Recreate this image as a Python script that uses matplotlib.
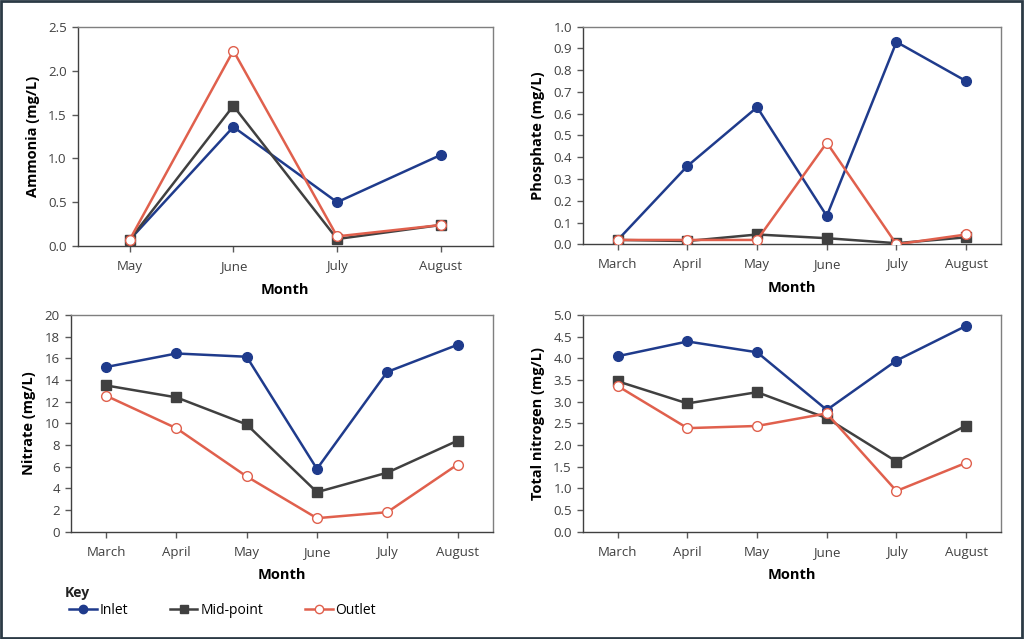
import matplotlib.pyplot as plt
from matplotlib.patches import Rectangle
from matplotlib.lines import Line2D

plt.rcParams['font.family'] = ['Open Sans', 'DejaVu Sans']

months_short = ['May', 'June', 'July', 'August']
months = ['March', 'April', 'May', 'June', 'July', 'August']

# Ammonia (May-August)
ammonia_inlet = [0.07, 1.36, 0.50, 1.04]
ammonia_mid = [0.07, 1.60, 0.08, 0.24]
ammonia_outlet = [0.07, 2.23, 0.11, 0.24]

# Phosphate
phos_inlet = [0.02, 0.36, 0.63, 0.13, 0.93, 0.75]
phos_mid = [0.02, 0.015, 0.045, 0.028, 0.005, 0.032]
phos_outlet = [0.02, 0.02, 0.02, 0.467, 0.0, 0.045]

# Nitrate
nitrate_inlet = [15.2, 16.45, 16.15, 5.8, 14.75, 17.25]
nitrate_mid = [13.5, 12.4, 9.9, 3.65, 5.45, 8.4]
nitrate_outlet = [12.55, 9.55, 5.1, 1.25, 1.8, 6.2]

# Total nitrogen
tn_inlet = [4.05, 4.39, 4.14, 2.81, 3.95, 4.75]
tn_mid = [3.47, 2.96, 3.22, 2.62, 1.62, 2.45]
tn_outlet = [3.36, 2.39, 2.44, 2.73, 0.94, 1.59]

c_inlet = '#1f3b8c'
c_mid = '#404040'
c_outlet = '#e0604d'

fig = plt.figure(figsize=(10.24, 6.39), dpi=100)


def draw(ax, cats, inlet, mid, outlet, ylabel, ymax, ystep, fmt):
    x = list(range(len(cats)))
    ax.plot(x, inlet, color=c_inlet, lw=1.8, marker='o', ms=7, mfc=c_inlet, mec=c_inlet, zorder=3)
    ax.plot(x, mid, color=c_mid, lw=1.8, marker='s', ms=7, mfc=c_mid, mec=c_mid, zorder=3)
    ax.plot(x, outlet, color=c_outlet, lw=1.8, marker='o', ms=7, mfc='white', mec=c_outlet, mew=1.0, zorder=4)
    ax.set_xlim(-0.5, len(cats) - 0.5)
    ax.set_ylim(0, ymax)
    ticks = [i * ystep for i in range(int(round(ymax / ystep)) + 1)]
    ax.set_yticks(ticks)
    ax.set_yticklabels([fmt.format(t) for t in ticks])
    ax.set_xticks(x)
    ax.set_xticklabels(cats)
    ax.tick_params(labelsize=9.5, colors='#404040', length=4, width=1, color='#595959', pad=4)
    ax.tick_params(axis='x', pad=6)
    for s in ax.spines.values():
        s.set_color('#7f7f7f')
        s.set_linewidth(1)
    ax.spines['bottom'].set_color('#404040')
    ax.spines['left'].set_color('#404040')
    ax.set_xlabel('Month', fontsize=10.5, fontweight='bold', labelpad=7)
    ax.set_ylabel(ylabel, fontsize=10.5, fontweight='bold', labelpad=6)


ax1 = fig.add_axes([0.0759, 0.615, 0.4053, 0.3427])
draw(ax1, months_short, ammonia_inlet, ammonia_mid, ammonia_outlet, 'Ammonia (mg/L)', 2.5, 0.5, '{:.1f}')

ax2 = fig.add_axes([0.5693, 0.6177, 0.4082, 0.3405])
draw(ax2, months, phos_inlet, phos_mid, phos_outlet, 'Phosphate (mg/L)', 1.0, 0.1, '{:.1f}')

ax3 = fig.add_axes([0.0693, 0.1679, 0.4118, 0.3391])
draw(ax3, months, nitrate_inlet, nitrate_mid, nitrate_outlet, 'Nitrate (mg/L)', 20, 2, '{:.0f}')

ax4 = fig.add_axes([0.5693, 0.1679, 0.4082, 0.3391])
draw(ax4, months, tn_inlet, tn_mid, tn_outlet, 'Total nitrogen (mg/L)', 5.0, 0.5, '{:.1f}')

# key
fig.text(0.063, 0.066, 'Key', fontsize=10, fontweight='bold', color='#222222')
handles = [
    Line2D([], [], color=c_inlet, lw=1.8, marker='o', ms=6, mfc=c_inlet, mec=c_inlet),
    Line2D([], [], color=c_mid, lw=1.8, marker='s', ms=6, mfc=c_mid, mec=c_mid),
    Line2D([], [], color=c_outlet, lw=1.8, marker='o', ms=6, mfc='white', mec=c_outlet),
]
fig.legend(handles, ['Inlet', 'Mid-point', 'Outlet'], loc='center left',
           bbox_to_anchor=(0.055, 0.045), ncol=3, frameon=False, fontsize=10,
           handlelength=2.0, handletextpad=0.2, columnspacing=3.0)

# outer frame
fig.patches.append(Rectangle((0.001, 0.002), 0.997, 0.996, transform=fig.transFigure,
                             fill=False, edgecolor='#2b3a45', lw=2))

fig.savefig('out.png', dpi=100)
